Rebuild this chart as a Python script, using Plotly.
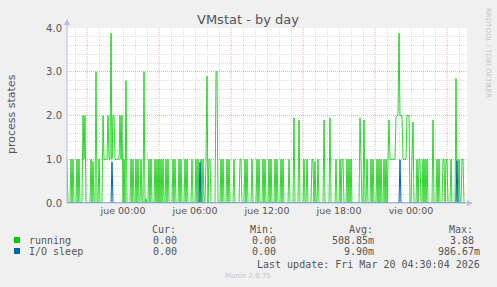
import plotly.graph_objects as go
import pandas as pd

# ---------------- data (5-minute samples) ----------------
start_time = "2026-03-18 19:20"
step_minutes = 5

running = [
    1, 0, 0, 0, 1, 0, 1, 0, 0, 0, 1, 0, 1, 0, 0, 0, 2, 1, 2, 0,
    0, 0, 0, 0, 1, 0, 0.95, 0, 0, 3.0, 0, 0, 1, 0, 0, 0, 2, 1, 1, 1,
    1, 2, 1, 1, 3.88, 1, 2, 2, 1, 1, 1, 1, 1, 2, 1, 2, 0, 1, 0, 2.8,
    0, 0, 0, 0, 1, 0, 1, 0, 0, 1, 0, 1, 0, 0, 1, 0, 0, 3.0, 0, 0.1,
    0, 0, 1, 0, 1, 0, 0, 0, 1, 0, 1, 0, 1, 0, 1, 0, 1, 0, 0, 1,
    0, 1, 0, 0, 0, 0, 1, 0, 1, 0, 0, 0, 1, 0, 1, 0, 0, 0, 1, 0,
    1, 0, 0, 0, 0, 1, 0, 0, 0, 1, 0, 1, 0, 0, 1, 0, 1, 0, 0, 1,
    2.9, 0, 1, 1, 0, 0, 0, 0, 0, 3.0, 3.0, 0, 0, 0, 1, 0, 1, 0, 0, 0,
    1, 0, 1, 0, 0, 0, 0, 1, 0, 0, 0, 0, 0, 1, 1, 0, 0, 0, 1, 0,
    1, 0, 0, 0, 0, 1, 0, 0, 0, 0, 1, 0, 1, 0, 0, 0, 1, 0, 1, 0,
    0, 0, 1, 0, 1, 0, 0, 0, 1, 0, 1, 0, 0, 0, 1, 0, 1, 0, 0, 0,
    0, 0, 1, 0, 0, 0, 0, 1.95, 0, 0, 0, 0, 1.9, 0, 0, 0, 0, 1, 0, 0,
    1, 0, 0, 0, 0, 1, 1, 0, 0.95, 0, 0, 1, 0, 0, 0, 0, 0, 1.9, 0, 0,
    0, 0, 0, 1.95, 0, 0, 0, 0, 0, 1, 0, 0, 0, 1, 0, 1, 1, 0, 0, 0,
    1, 0, 1, 0, 1, 0, 0, 0, 0, 0, 0, 0, 0, 1.95, 1, 0, 0, 1.9, 0, 0,
    1, 0, 0, 0, 1, 0, 1, 0, 0, 0, 1, 0, 1, 0, 1, 0, 0, 1, 0, 1,
    0, 1, 1.9, 1, 1, 1, 1, 1, 1, 1.95, 2, 2, 3.88, 2, 2, 2, 1, 1, 1, 1,
    2, 2, 2, 0, 0, 1, 1.85, 0, 0, 0, 1, 0, 1, 1, 0, 0, 1, 0, 1, 0,
    1, 0, 0, 0, 0, 0, 1.9, 0, 0, 0, 1, 0, 1, 0, 0, 0, 1, 1, 0, 1,
    1, 0, 0, 0, 1, 0, 0, 0, 0, 2.85, 0, 0, 1, 0, 0, 1, 1, 0, 0, 0,
]

io_sleep = [
    0, 0, 0, 0, 0, 0, 0, 0, 0, 0, 0, 0, 0, 0, 0, 0, 0, 0, 0, 0,
    0, 0, 0, 0, 0, 0, 0, 0, 0, 0, 0, 0, 0, 0, 0, 0, 0, 0, 0, 0,
    0, 0, 0, 0, 0, 0.94, 0, 0, 0, 0, 0, 0, 0, 0, 0, 0, 0, 0, 0, 0,
    0, 0, 0, 0, 0, 0, 0, 0, 0, 0, 0, 0, 0, 0, 0, 0, 0, 0, 0, 0,
    0, 0, 0, 0, 0, 0, 0, 0, 0, 0, 0, 0, 0, 0, 0, 0, 0, 0, 0, 0,
    0, 0, 0, 0, 0, 0, 0, 0, 0, 0, 0, 0, 0, 0, 0, 0, 0, 0, 0, 0,
    0, 0, 0, 0, 0, 0, 0, 0, 0, 0, 0, 0, 0, 0.93, 0, 0, 0, 0, 0, 0,
    0, 0, 0, 0, 0, 0, 0, 0, 0, 0, 0, 0, 0, 0, 0, 0, 0, 0, 0, 0,
    0, 0, 0, 0, 0, 0, 0, 0, 0, 0, 0, 0, 0, 0, 0, 0, 0, 0, 0, 0,
    0, 0, 0, 0, 0, 0, 0, 0, 0, 0, 0, 0, 0, 0, 0, 0, 0, 0, 0, 0,
    0, 0, 0, 0, 0, 0, 0, 0, 0, 0, 0, 0, 0, 0, 0, 0, 0, 0, 0, 0,
    0, 0, 0, 0, 0, 0, 0, 0, 0, 0, 0, 0, 0, 0, 0, 0, 0, 0, 0, 0,
    0, 0, 0, 0, 0, 0, 0, 0, 0, 0, 0, 0, 0, 0, 0, 0, 0, 0, 0, 0,
    0, 0, 0, 0, 0, 0, 0, 0, 0, 0, 0, 0, 0, 0, 0, 0, 0, 0, 0, 0,
    0, 0, 0, 0, 0, 0, 0, 0, 0, 0, 0, 0, 0, 0, 0, 0, 0, 0, 0, 0,
    0, 0, 0, 0, 0, 0, 0, 0, 0, 0, 0, 0, 0, 0, 0, 0, 0, 0, 0, 0,
    0, 0, 0, 0, 0, 0, 0, 0, 0, 0, 0, 0, 0, 0.99, 0, 0, 0, 0, 0, 0,
    0, 0, 0, 0, 0, 0, 0, 0, 0, 0, 0, 0, 0, 0, 0, 0, 0, 0, 0, 0,
    0, 0, 0, 0, 0, 0, 0, 0, 0, 0, 0, 0, 0, 0, 0, 0, 0, 0, 0, 0,
    0, 0, 0, 0, 0, 0, 0, 0, 0, 0, 0.97, 0, 0, 0, 0, 0, 0, 0, 0, 0,
]

tick_times = ["2026-03-19 00:00", "2026-03-19 06:00", "2026-03-19 12:00",
              "2026-03-19 18:00", "2026-03-20 00:00"]
tick_labels = ["jue 00:00", "jue 06:00", "jue 12:00", "jue 18:00", "vie 00:00"]
major_grid_times = ["2026-03-18 21:00", "2026-03-19 03:00", "2026-03-19 09:00",
                    "2026-03-19 15:00", "2026-03-19 21:00", "2026-03-20 03:00"]

series_names = ["running", "I/O sleep"]
series_colors = ["#00CC00", "#0066B3"]
legend_cur = ["0.00", "0.00"]
legend_min = ["0.00", "0.00"]
legend_avg = ["508.85m", "9.90m"]
legend_max = ["3.88 ", "986.67m"]

# ---------------- figure ----------------
times = pd.date_range(start_time, periods=len(running), freq=f"{step_minutes}min")
x_end = times[0] + pd.Timedelta(minutes=step_minutes * len(running))

W, H = 497, 287
L, R, T, B = 67, 467, 28, 203


def px(x):
    return (x - L) / (R - L)


def py(y):
    return (B - y) / (B - T)


fig = go.Figure()
for vals, name, col, w in zip([running, io_sleep], series_names, series_colors, [0.8, 1]):
    fig.add_trace(go.Scatter(x=times, y=vals, mode="lines", name=name,
                             line=dict(color=col, width=w), hoverinfo="skip"))

grey = "#555555"
axis_col = "#b4bbe6"
major_col = "#eab0b0"
minor_col = "#dcdcdc"
dots = "1px,1px"

fig.update_layout(
    width=W, height=H,
    margin=dict(l=L, r=W - R, t=T, b=H - B, pad=0),
    paper_bgcolor="#F0F0F0", plot_bgcolor="#FFFFFF",
    showlegend=False,
    font=dict(family="DejaVu Sans", size=10, color=grey),
    xaxis=dict(
        type="date", range=[times[0], x_end], showline=False, zeroline=False,
        tickvals=pd.to_datetime(tick_times), ticktext=tick_labels, ticks="",
        showgrid=False, tickfont=dict(size=9.5, color=grey),
        minor=dict(dtick=3600000, tick0="2026-03-18 00:00", showgrid=True,
                   gridcolor=minor_col, griddash=dots, gridwidth=1),
    ),
    yaxis=dict(
        range=[0, 4], showline=False, zeroline=False, dtick=1, tickformat=".1f",
        ticks="", showgrid=True, gridcolor=major_col, griddash=dots, gridwidth=1,
        tickfont=dict(size=10, color=grey), ticklabelstandoff=4,
        minor=dict(dtick=0.2, showgrid=True, gridcolor=minor_col,
                   griddash=dots, gridwidth=1),
    ),
)

shapes = []
for t in major_grid_times:
    shapes.append(dict(type="line", xref="x", yref="paper", x0=t, x1=t, y0=0, y1=1,
                       line=dict(color=major_col, width=1, dash=dots), layer="between"))
# axis lines with arrows
shapes.append(dict(type="line", xref="paper", yref="paper", x0=px(L), x1=px(470),
                   y0=0, y1=0, line=dict(color=axis_col, width=1), layer="above"))
shapes.append(dict(type="line", xref="paper", yref="paper", x0=0, x1=0,
                   y0=0, y1=py(21), line=dict(color=axis_col, width=1), layer="above"))
shapes.append(dict(type="path", xref="paper", yref="paper",
                   path=f"M {px(467)},{py(200)} L {px(473)},{py(203)} L {px(467)},{py(206)} Z",
                   fillcolor=axis_col, line=dict(width=0), layer="above"))
shapes.append(dict(type="path", xref="paper", yref="paper",
                   path=f"M {px(64)},{py(25)} L {px(67)},{py(19)} L {px(70)},{py(25)} Z",
                   fillcolor=axis_col, line=dict(width=0), layer="above"))
# legend colour squares
for i, col in enumerate(series_colors):
    yc = 240 + 11 * i
    shapes.append(dict(type="rect", xref="paper", yref="paper",
                       x0=px(14), x1=px(20), y0=py(yc + 3), y1=py(yc - 3),
                       fillcolor=col, line=dict(width=0), layer="above"))
fig.update_layout(shapes=shapes)

mono = dict(family="DejaVu Sans Mono", size=10, color=grey)
ann = []


def text(x, y, s, xanchor="left", font=None, angle=0):
    ann.append(dict(xref="paper", yref="paper", x=px(x), y=py(y), text=s,
                    showarrow=False, xanchor=xanchor, yanchor="middle",
                    font=font or mono, textangle=angle))


text(248, 19, "VMstat - by day", "center", dict(family="DejaVu Sans", size=13, color=grey))
text(11, 114, "process states", "center", dict(family="DejaVu Sans", size=11, color=grey), -90)
text(488, 53, "RRDTOOL / TOBI OETIKER", "center",
     dict(family="DejaVu Sans", size=7, color="#c4c4c4"), 90)

text(150, 229, "Cur:")
text(248, 229, "Min:")
text(347, 229, "Avg:")
text(447, 229, "Max:")
for i, name in enumerate(series_names):
    yc = 240 + 11 * i
    text(27, yc, name)
    text(179, yc, legend_cur[i], "right")
    text(278, yc, legend_min[i], "right")
    text(376, yc, legend_avg[i], "right")
    text(482, yc, legend_max[i].replace(" ", "&nbsp;"), "right")
text(482, 264, "Last update: Fri Mar 20 04:30:04 2026", "right")
text(248, 276, "Munin 2.0.75", "center", dict(family="DejaVu Sans", size=7, color="#c4c4c4"))

fig.update_layout(annotations=ann)
fig.write_html("out.html")
